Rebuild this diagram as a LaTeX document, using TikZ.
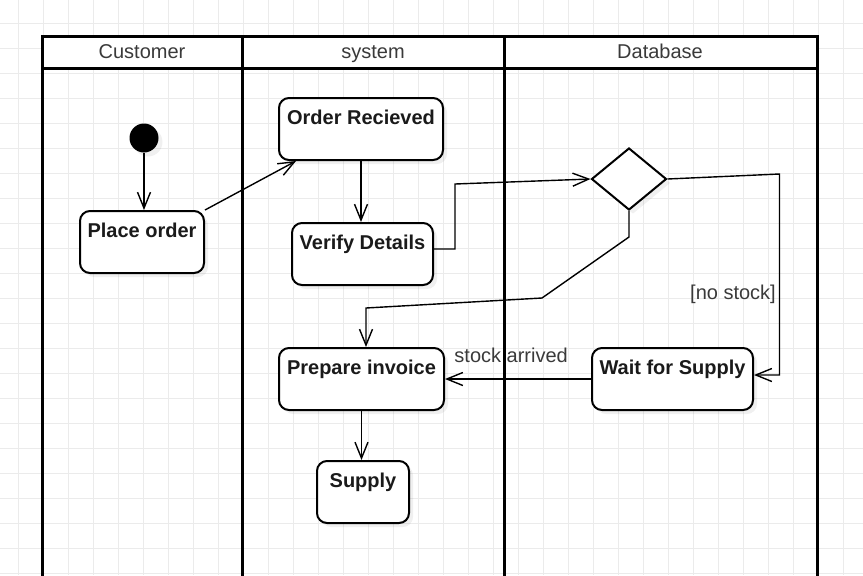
\documentclass[tikz,border=0pt]{standalone}
\usepackage{fontspec}
\setmainfont{Liberation Sans}
\usetikzlibrary{arrows.meta,shapes.geometric,shadows}
\definecolor{ink}{HTML}{1A1A1A}
\definecolor{lbl}{HTML}{3A3A3A}
\definecolor{gridc}{HTML}{EBEBEB}

\begin{document}
\begin{tikzpicture}[x=0.5pt,y=-0.5pt,
	gridline/.style={gridc,line width=0.5pt},
	lane/.style={line width=1.5pt},
	head/.style={anchor=base,text=lbl},
	shade/.style={drop shadow={shadow xshift=2pt,shadow yshift=-2pt,opacity=0.12}},
	act/.style={draw,fill=white,rounded corners=5pt,line width=1pt,font=\bfseries,text=ink,inner sep=0pt,text height=13pt,text depth=18pt,shade},
	flow/.style={line width=0.7pt,-{Straight Barb[length=8pt,width=6.5pt]}},
	guard/.style={text=lbl,inner sep=1.5pt}]
	\useasboundingbox (0,0) rectangle (863,575);
	\clip (0,0) rectangle (863,575);
	\foreach \i in {0,...,34} \draw[gridline] (18+25*\i,0) -- (18+25*\i,575);
	\foreach \j in {0,...,22} \draw[gridline] (0,23+25*\j) -- (863,23+25*\j);
	\fill[white] (42,36) rectangle (817,68);
	\draw[lane] (42,600) -- (42,36) -- (817,36) -- (817,600);
	\draw[lane] (42,68) -- (817,68);
	\draw[lane] (242,36) -- (242,600);
	\draw[lane] (504,36) -- (504,600);
	\node[head] (hcust) at (142,58) {Customer};
	\node[head] (hsys) at (373,58) {system};
	\node[head] (hdb) at (660,58) {Database};
	\node[circle,fill=black,minimum size=14.5pt,inner sep=0pt,shade] (start) at (144,138) {};
	\node[act,minimum width=62pt] (place) at (142,242) {Place order};
	\node[act,minimum width=82pt] (recv) at (361,129) {Order Recieved};
	\node[act,minimum width=70.5pt] (verify) at (362.5,254) {Verify Details};
	\node[diamond,draw,fill=white,line width=1pt,minimum width=37.5pt,minimum height=31pt,inner sep=0pt,shade] (dec) at (629,179) {};
	\node[act,minimum width=82.5pt] (invoice) at (361.5,379) {Prepare invoice};
	\node[act,minimum width=46pt] (supply) at (363,492) {Supply};
	\node[act,minimum width=80.5pt] (wait) at (672.5,379) {Wait for Supply};
	\draw[flow] (start) -- (start |- place.north);
	\draw[flow] (place.north east) -- ([xshift=9pt]recv.south west);
	\draw[flow] (recv.south) -- (recv.south |- verify.north);
	\draw[flow] ([yshift=2.5pt]verify.east) -- ++(21,0) -- ++(0,-65) -- (dec.west);
	\draw[flow] (dec.south) -- ++(0,26) -- ++(-87,61) -- ++(-176,10) coordinate (bend) -- (bend |- invoice.north);
	\draw[flow] (dec.east) -- ++(112,-5) |- node[guard,pos=0.312,anchor=base east] {[no stock]} ([yshift=2pt]wait.east);
	\draw[flow] (wait.west) -- node[guard,pos=0.547,anchor=base,yshift=8.5pt] {stock arrived} (invoice.east);
	\draw[flow] (invoice.south) -- (invoice.south |- supply.north);
	\end{tikzpicture}
\end{document}
